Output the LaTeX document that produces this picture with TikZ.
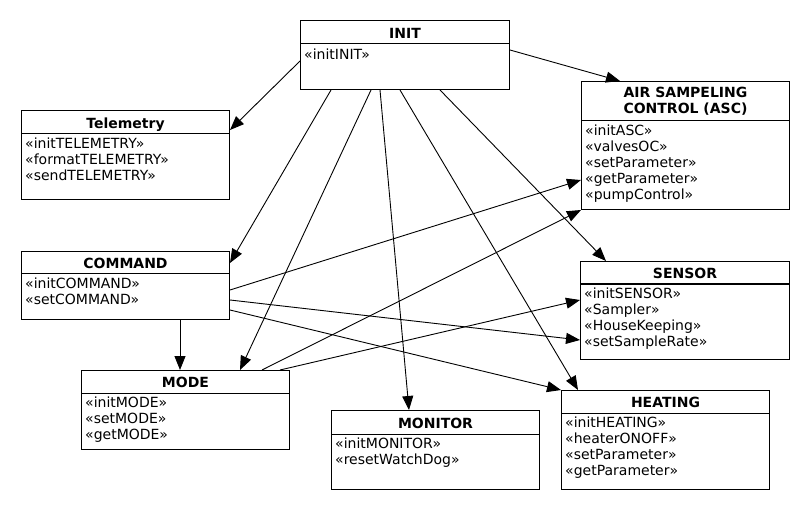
\documentclass[tikz,border=0pt]{standalone}
\usepackage{fontspec}
\setmainfont{DejaVu Sans}
\usetikzlibrary{arrows.meta}

\begin{document}
\begin{tikzpicture}[x=1pt, y=-1pt,
  classbox/.style={draw, line width=1pt, anchor=north west, inner sep=0pt},
  divider/.style={line width=1pt},
  classname/.style={anchor=north, inner sep=0pt, align=center, font=\fontsize{14}{16}\selectfont\bfseries, execute at begin node=\strut},
  ops/.style={anchor=north west, inner sep=0pt, align=left, font=\fontsize{14}{16}\selectfont, execute at begin node=\strut},
  uses/.style={line width=0.9pt, -{Triangle[length=14pt, width=11pt]}}]

  \useasboundingbox (0,0) rectangle (810,510);

  % INIT
  \node[classbox, minimum width=209pt, minimum height=69pt] (init) at (300,20) {};
  \draw[divider] ([yshift=-24pt]init.north west) -- ([yshift=-24pt]init.north east);
  \node[classname] (initname) at ([yshift=-6.8pt]init.north) {INIT};
  \node[ops] (initops) at ([xshift=4pt,yshift=-27.8pt]init.north west) {«initINIT»};

  % Telemetry
  \node[classbox, minimum width=208pt, minimum height=89pt] (tele) at (21,110) {};
  \draw[divider] ([yshift=-24pt]tele.north west) -- ([yshift=-24pt]tele.north east);
  \node[classname] (telename) at ([yshift=-6.8pt]tele.north) {Telemetry};
  \node[ops] (teleops) at ([xshift=4pt,yshift=-27.8pt]tele.north west) {«initTELEMETRY»\\«formatTELEMETRY»\\«sendTELEMETRY»};

  % COMMAND
  \node[classbox, minimum width=208pt, minimum height=68pt] (cmd) at (21,251) {};
  \draw[divider] ([yshift=-23pt]cmd.north west) -- ([yshift=-23pt]cmd.north east);
  \node[classname] (cmdname) at ([yshift=-6.3pt]cmd.north) {COMMAND};
  \node[ops] (cmdops) at ([xshift=4pt,yshift=-26.8pt]cmd.north west) {«initCOMMAND»\\«setCOMMAND»};

  % MODE
  \node[classbox, minimum width=208pt, minimum height=79pt] (mode) at (81,370) {};
  \draw[divider] ([yshift=-23pt]mode.north west) -- ([yshift=-23pt]mode.north east);
  \node[classname] (modename) at ([yshift=-6.3pt]mode.north) {MODE};
  \node[ops] (modeops) at ([xshift=4pt,yshift=-26.8pt]mode.north west) {«initMODE»\\«setMODE»\\«getMODE»};

  % MONITOR
  \node[classbox, minimum width=208pt, minimum height=79pt] (mon) at (331,410) {};
  \draw[divider] ([yshift=-24pt]mon.north west) -- ([yshift=-24pt]mon.north east);
  \node[classname] (monname) at ([yshift=-6.8pt]mon.north) {MONITOR};
  \node[ops] (monops) at ([xshift=4pt,yshift=-27.8pt]mon.north west) {«initMONITOR»\\«resetWatchDog»};

  % AIR SAMPELING CONTROL
  \node[classbox, minimum width=208pt, minimum height=128pt] (asc) at (581,81) {};
  \draw[divider] ([yshift=-40pt]asc.north west) -- ([yshift=-40pt]asc.north east);
  \node[classname] (ascname) at ([yshift=-5.8pt]asc.north) {AIR SAMPELING\\CONTROL (ASC)};
  \node[ops] (ascops) at ([xshift=4pt,yshift=-43.8pt]asc.north west) {«initASC»\\«valvesOC»\\«setParameter»\\«getParameter»\\«pumpControl»};

  % SENSOR
  \node[classbox, minimum width=209pt, minimum height=98pt] (sens) at (580,261) {};
  \draw[divider] ([yshift=-23pt]sens.north west) -- ([yshift=-23pt]sens.north east);
  \node[classname] (sensname) at ([yshift=-6.3pt]sens.north) {SENSOR};
  \node[ops] (sensops) at ([xshift=4pt,yshift=-26.8pt]sens.north west) {«initSENSOR»\\«Sampler»\\«HouseKeeping»\\«setSampleRate»};

  % HEATING
  \node[classbox, minimum width=208pt, minimum height=99pt] (heat) at (561,390) {};
  \draw[divider] ([yshift=-23pt]heat.north west) -- ([yshift=-23pt]heat.north east);
  \node[classname] (heatname) at ([yshift=-6.3pt]heat.north) {HEATING};
  \node[ops] (heatops) at ([xshift=4pt,yshift=-26.8pt]heat.north west) {«initHEATING»\\«heaterONOFF»\\«setParameter»\\«getParameter»};

  % Dependencies
  \draw[uses] ([yshift=-30pt]init.north east) -- ([xshift=39pt]asc.north west); % INIT to ASC
  \draw[uses] ([yshift=-41pt]init.north west) -- ([yshift=-20pt]tele.north east); % INIT to Telemetry
  \draw[uses] ([xshift=31pt]init.south west) -- ([yshift=-12pt]cmd.north east); % INIT to COMMAND
  \draw[uses] ([xshift=71pt]init.south west) -- ([xshift=159pt]mode.north west); % INIT to MODE
  \draw[uses] ([xshift=80pt]init.south west) -- ([xshift=78pt]mon.north west); % INIT to MONITOR
  \draw[uses] ([xshift=100pt]init.south west) -- ([xshift=17pt]heat.north west); % INIT to HEATING
  \draw[uses] ([xshift=140pt]init.south west) -- ([xshift=26pt]sens.north west); % INIT to SENSOR
  \draw[uses] ([yshift=-39pt]cmd.north east) -- ([yshift=-99pt]asc.north west); % COMMAND to ASC
  \draw[uses] ([yshift=-49pt]cmd.north east) -- ([yshift=-79pt]sens.north west); % COMMAND to SENSOR
  \draw[uses] ([yshift=-59pt]cmd.north east) -- (heat.north west); % COMMAND to HEATING
  \draw[uses] ([xshift=159pt]cmd.south west) -- ([xshift=99pt]mode.north west); % COMMAND to MODE
  \draw[uses] ([xshift=181pt]mode.north west) -- (asc.south west); % MODE to ASC
  \draw[uses] ([xshift=199pt]mode.north west) -- ([yshift=-39pt]sens.north west); % MODE to SENSOR

\end{tikzpicture}
\end{document}
